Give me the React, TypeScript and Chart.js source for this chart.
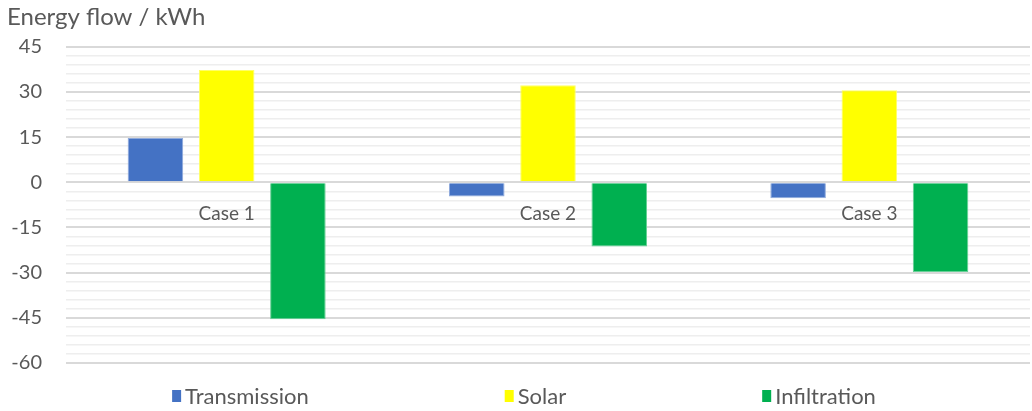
import React, { useEffect, useRef } from "react";
import { Chart, registerables } from "chart.js";

Chart.register(...registerables);

// Cases shown along the horizontal axis
const categories = ["Case 1", "Case 2", "Case 3"];

// Energy flow per component, kWh
const transmission = [14.7, -4.7, -5.3];
const solar = [37.3, 32.2, 30.6];
const infiltration = [-45.5, -21.3, -29.8];

// Value axis range and spacing
const yMin = -60;
const yMax = 45;
const minorStep = 3;
const majorStep = 15;

const FONT = "Lato, 'Open Sans', sans-serif";
const TEXT = "#595959";

// Legend drawn along the bottom with wide, even gaps between entries
const spreadLegend = {
  id: "spreadLegend",
  afterDraw(chart: any) {
    const ctx = chart.ctx;
    const fontSize = 22;
    const box = { w: 9, h: 12 };
    const boxGap = 4;
    const itemGap = 196;
    ctx.save();
    ctx.font = `${fontSize}px ${FONT}`;
    const items = chart.data.datasets.map((ds: any) => ({
      label: ds.label,
      color: ds.backgroundColor,
      width: box.w + boxGap + ctx.measureText(ds.label).width,
    }));
    const total =
      items.reduce((s: number, it: any) => s + it.width, 0) + itemGap * (items.length - 1);
    const centerX = 524;
    const y = 397;
    let x = centerX - total / 2;
    ctx.textBaseline = "middle";
    ctx.textAlign = "left";
    for (const it of items) {
      ctx.fillStyle = it.color;
      ctx.fillRect(x, y - box.h / 2 - 1, box.w, box.h);
      ctx.fillStyle = TEXT;
      ctx.fillText(it.label, x + box.w + boxGap, y);
      x += it.width + itemGap;
    }
    ctx.restore();
  },
};

export default function App() {
  const canvasRef = useRef<HTMLCanvasElement | null>(null);

  useEffect(() => {
    document.body.style.margin = "0";
    const canvas = canvasRef.current;
    if (!canvas) return;

    const chart = new Chart(canvas, {
      type: "bar",
      data: {
        labels: categories,
        datasets: [
          {
            label: "Transmission",
            data: transmission,
            backgroundColor: "#4472c4",
            borderColor: "#8faadc",
            borderWidth: 1,
          },
          {
            label: "Solar",
            data: solar,
            backgroundColor: "#ffff00",
            borderColor: "#ffff66",
            borderWidth: 1,
          },
          {
            label: "Infiltration",
            data: infiltration,
            backgroundColor: "#00b050",
            borderColor: "#66d096",
            borderWidth: 1,
          },
        ],
      },
      plugins: [spreadLegend],
      options: {
        responsive: false,
        animation: false,
        layout: { padding: { left: 7, right: 2, top: 0, bottom: 48 } },
        datasets: {
          bar: { categoryPercentage: 0.665, barPercentage: 0.78 },
        },
        plugins: {
          title: {
            display: true,
            text: "Energy flow / kWh",
            align: "start",
            color: TEXT,
            font: { family: FONT, size: 24, weight: "normal" },
            padding: { top: 3, bottom: 15 },
          },
          legend: { display: false },
          tooltip: { enabled: false },
        },
        scales: {
          x: {
            position: { y: 0 },
            grid: { display: false },
            border: { display: false },
            afterFit: (scale: any) => {
              scale.height = 0;
            },
            ticks: {
              color: TEXT,
              font: { family: FONT, size: 19 },
              padding: 12,
            },
          },
          y: {
            min: yMin,
            max: yMax,
            border: { display: false },
            afterFit: (scale: any) => {
              scale.width = 59;
            },
            ticks: {
              stepSize: minorStep,
              autoSkip: false,
              color: TEXT,
              font: { family: FONT, size: 20 },
              padding: 24,
              callback: (v: any) => (Number(v) % majorStep === 0 ? String(v) : ""),
            },
            grid: {
              drawTicks: false,
              color: (ctx: any) =>
                ctx.tick && ctx.tick.value % majorStep === 0 ? "#d9d9d9" : "#eeeeee",
              lineWidth: (ctx: any) =>
                ctx.tick && ctx.tick.value % majorStep === 0 ? 2 : 1.5,
            },
          },
        },
      },
    });

    return () => chart.destroy();
  }, []);

  return (
    <div style={{ width: 1032, height: 411 }}>
      <canvas ref={canvasRef} width={1032} height={411} />
    </div>
  );
}
